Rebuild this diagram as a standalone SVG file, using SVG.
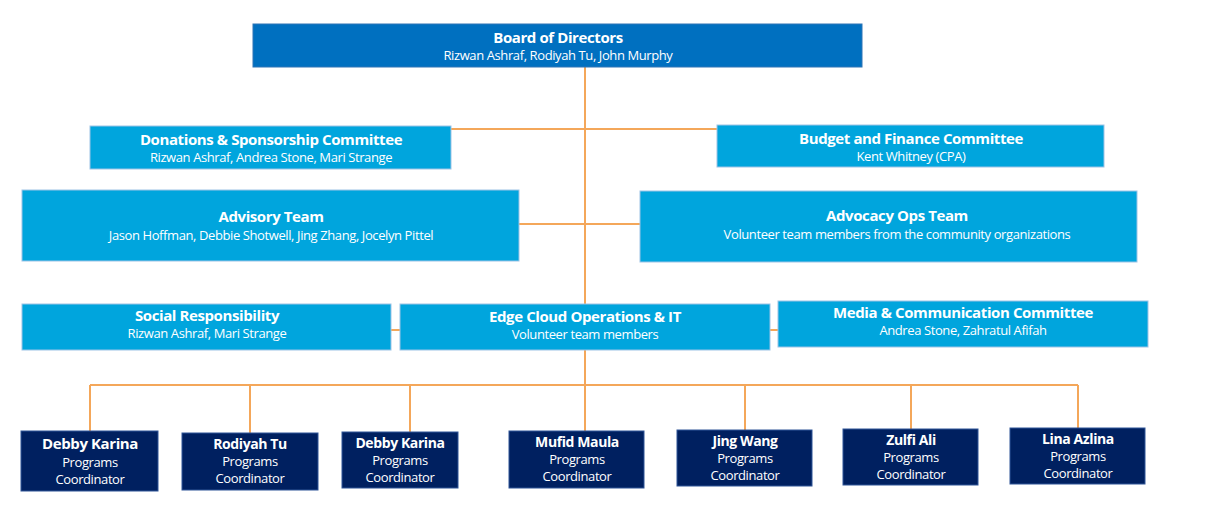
<svg xmlns="http://www.w3.org/2000/svg" width="1205" height="505" viewBox="0 0 1205 505">
<style>
.t{font-family:"Open Sans",sans-serif;fill:#fff;text-anchor:middle;letter-spacing:-0.4px}
.h{font-weight:bold;font-size:15px}
.s{font-size:13px}
.b{fill:#00A5DD;stroke:#9DC3E6;stroke-width:1}
.d{fill:#002060;stroke:#2F5597;stroke-width:1}
.c{stroke:#F4A75A;stroke-width:2;fill:none}
</style>
<rect width="1205" height="505" fill="#fff"/>
<g id="connectors" class="c">
<path d="M585 67V385M451 129H717M519 224H640M391 330H400M770 330H778"/>
<path d="M90 385H1078M90 385V431M250 385V433M410 385V432M585 385V431M745 385V430M911 385V429M1078 385V428"/>
</g>
<g id="board"><rect x="253" y="24" width="609" height="43" fill="#0070C0" stroke="#2E75B6"/><text class="t h" x="558" y="43">Board of Directors</text><text class="t s" x="558" y="60">Rizwan Ashraf, Rodiyah Tu, John Murphy</text></g>
<g id="donations"><rect class="b" x="90" y="126" width="361" height="43"/><text class="t h" x="271" y="145">Donations &amp; Sponsorship Committee</text><text class="t s" x="271" y="162">Rizwan Ashraf, Andrea Stone, Mari Strange</text></g>
<g id="budget"><rect class="b" x="717" y="125" width="387" height="42"/><text class="t h" x="911" y="144">Budget and Finance Committee</text><text class="t s" x="911" y="161">Kent Whitney (CPA)</text></g>
<g id="advisory"><rect class="b" x="22" y="190" width="497" height="71"/><text class="t h" x="271" y="222">Advisory Team</text><text class="t s" x="271" y="240">Jason Hoffman, Debbie Shotwell, Jing Zhang, Jocelyn Pittel</text></g>
<g id="advocacy"><rect class="b" x="640" y="191" width="497" height="71"/><text class="t h" x="897" y="221">Advocacy Ops Team</text><text class="t s" x="897" y="239">Volunteer team members from the community organizations</text></g>
<g id="social"><rect class="b" x="22" y="304" width="369" height="46"/><text class="t h" x="207" y="321">Social Responsibility</text><text class="t s" x="207" y="338">Rizwan Ashraf, Mari Strange</text></g>
<g id="edge"><rect class="b" x="400" y="304" width="370" height="46"/><text class="t h" x="585" y="322">Edge Cloud Operations &amp; IT</text><text class="t s" x="585" y="339">Volunteer team members</text></g>
<g id="media"><rect class="b" x="778" y="301" width="370" height="46"/><text class="t h" x="963" y="318">Media &amp; Communication Committee</text><text class="t s" x="963" y="335">Andrea Stone, Zahratul Afifah</text></g>
<g id="c1"><rect class="d" x="21" y="431" width="137" height="60"/><text class="t h" x="90" y="449">Debby Karina</text><text class="t s" x="90" y="467">Programs</text><text class="t s" x="90" y="484">Coordinator</text></g>
<g id="c2"><rect class="d" x="182" y="433" width="136" height="57"/><text class="t h" x="250" y="449" style="font-size:14px">Rodiyah Tu</text><text class="t s" x="250" y="466">Programs</text><text class="t s" x="250" y="483">Coordinator</text></g>
<g id="c3"><rect class="d" x="342" y="432" width="116" height="56"/><text class="t h" x="400" y="448" style="font-size:14px">Debby Karina</text><text class="t s" x="400" y="465">Programs</text><text class="t s" x="400" y="482">Coordinator</text></g>
<g id="c4"><rect class="d" x="509" y="431" width="135" height="57"/><text class="t h" x="577" y="447" style="font-size:14px">Mufid Maula</text><text class="t s" x="577" y="464">Programs</text><text class="t s" x="577" y="481">Coordinator</text></g>
<g id="c5"><rect class="d" x="677" y="430" width="135" height="56"/><text class="t h" x="745" y="446" style="font-size:14px">Jing Wang</text><text class="t s" x="745" y="463">Programs</text><text class="t s" x="745" y="480">Coordinator</text></g>
<g id="c6"><rect class="d" x="843" y="429" width="135" height="56"/><text class="t h" x="911" y="445" style="font-size:14px">Zulfi Ali</text><text class="t s" x="911" y="462">Programs</text><text class="t s" x="911" y="479">Coordinator</text></g>
<g id="c7"><rect class="d" x="1010" y="428" width="135" height="56"/><text class="t h" x="1078" y="444" style="font-size:14px">Lina Azlina</text><text class="t s" x="1078" y="461">Programs</text><text class="t s" x="1078" y="478">Coordinator</text></g>
</svg>
